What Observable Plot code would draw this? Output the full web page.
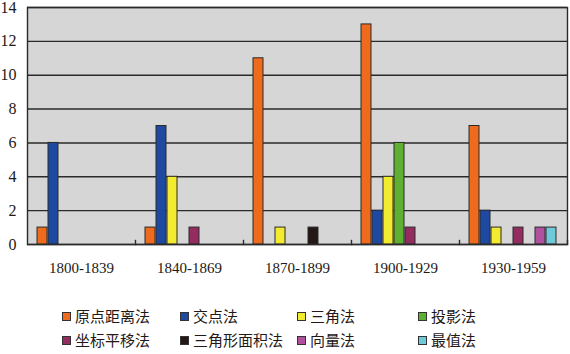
<!DOCTYPE html>
<html>
<head>
<meta charset="utf-8">
<script src="https://cdn.jsdelivr.net/npm/d3@7"></script>
<script src="https://cdn.jsdelivr.net/npm/@observablehq/plot@0.6"></script>
<style>
  body { margin: 0; background: #fff; }
  #chart svg { display: block; overflow: visible; }
  #legend {
    display: grid;
    grid-template-columns: 118px 117px 121px 120px;
    padding-left: 62px;
    margin-top: 14px;
    font-family: "Noto Sans CJK SC", sans-serif;
    font-size: 15px;
    color: #231815;
    line-height: 24px;
  }
  .item { display: flex; align-items: center; white-space: nowrap; }
  .sw { width: 7px; height: 7px; border: 1.2px solid #333; margin-right: 4px; flex: none; }
</style>
</head>
<body>
<div id="chart"></div>
<div id="legend"></div>
<script>
const periods = ["1800-1839", "1840-1869", "1870-1899", "1900-1929", "1930-1959"];
const methods = ["原点距离法", "交点法", "三角法", "投影法", "坐标平移法", "三角形面积法", "向量法", "最值法"];
const colors = ["#ee6a1d", "#1d4aa0", "#f3eb2f", "#5fb031", "#952c60", "#231815", "#b0509e", "#6ec9d8"];
// counts per method, one value per period
const yuandian = [1, 1, 11, 13, 7];
const jiaodian = [6, 7, 0, 2, 2];
const sanjiao = [0, 4, 1, 4, 1];
const touying = [0, 0, 0, 6, 0];
const pingyi = [0, 1, 0, 1, 1];
const mianji = [0, 0, 1, 0, 0];
const xiangliang = [0, 0, 0, 0, 1];
const zuizhi = [0, 0, 0, 0, 1];
const yTicks = [0, 2, 4, 6, 8, 10, 12, 14];

const series = [yuandian, jiaodian, sanjiao, touying, pingyi, mianji, xiangliang, zuizhi];
const data = [];
methods.forEach((m, i) => periods.forEach((p, j) => data.push({period: p, method: m, count: series[i][j]})));

const chart = Plot.plot({
  width: 570,
  height: 290,
  marginLeft: 27,
  marginRight: 3,
  marginTop: 7,
  marginBottom: 46,
  style: {fontFamily: "'Liberation Serif', serif", fontSize: "16px", color: "#231815", background: "#fff", overflow: "visible"},
  fx: {domain: periods, padding: 0, label: null, axis: null},
  x: {domain: methods, paddingInner: 0.05, paddingOuter: 0.8, axis: null},
  y: {domain: [0, 14], ticks: yTicks, label: null, axis: null},
  color: {domain: methods, range: colors},
  marks: [
    Plot.frame({facet: "super", fill: "#d6d6d6"}),
    Plot.ruleY(yTicks, {stroke: "#2a2a2a", strokeWidth: 1.4}),
    Plot.barY(data.filter(d => d.count > 0), {fx: "period", x: "method", y: "count", fill: "method", stroke: "#2a2a2a", strokeWidth: 1}),
    Plot.frame({anchor: "right", insetTop: 233, stroke: "#2a2a2a", strokeWidth: 1.4}),
    Plot.frame({facet: "super", stroke: "#2a2a2a", strokeWidth: 1.4}),
    Plot.axisY({ticks: yTicks, tickSize: 0, tickPadding: 11, fontSize: 16}),
    Plot.axisFx({anchor: "bottom", domain: periods, tickSize: 0, tickPadding: 18, fontSize: 15, label: null})
  ]
});
document.getElementById("chart").appendChild(chart);

const legend = document.getElementById("legend");
methods.forEach((m, i) => {
  const item = document.createElement("div");
  item.className = "item";
  const sw = document.createElement("span");
  sw.className = "sw";
  sw.style.background = colors[i];
  const t = document.createElement("span");
  t.textContent = m;
  item.appendChild(sw);
  item.appendChild(t);
  legend.appendChild(item);
});
</script>
</body>
</html>
